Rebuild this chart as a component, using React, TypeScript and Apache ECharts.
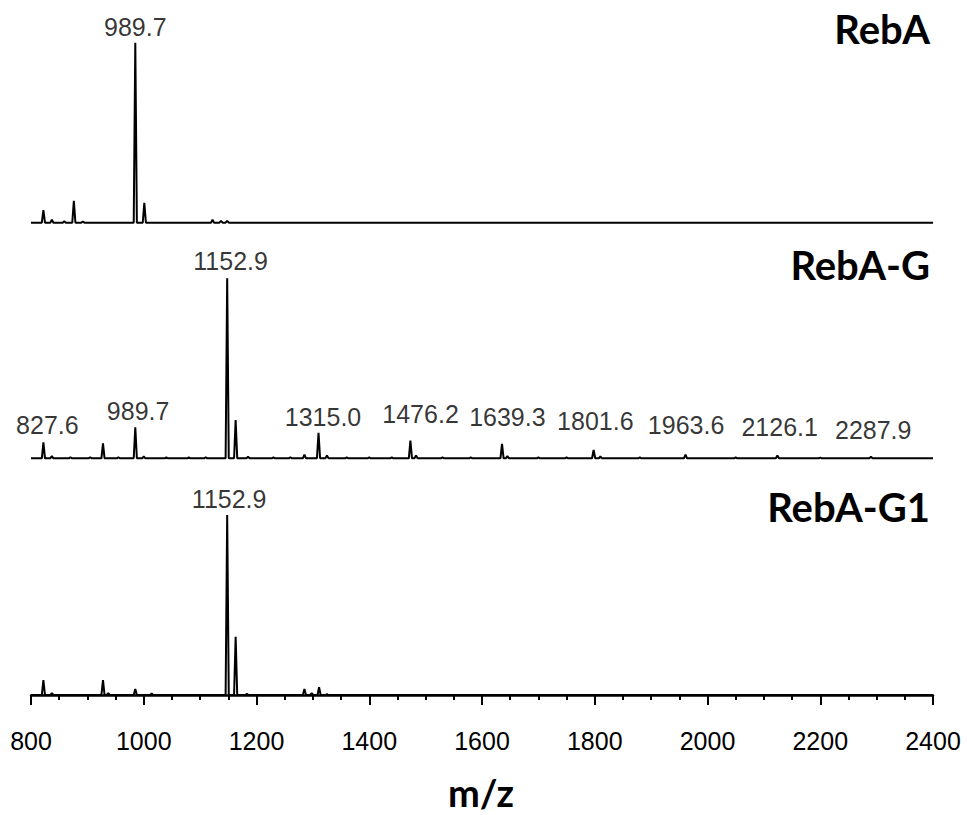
import React, { useEffect, useRef } from "react";
import * as echarts from "echarts";

// ---- axis ----
const MZ_MIN = 800;
const MZ_MAX = 2400;
const MZ_STEP = 200;
const xAxisTitle = "m/z";

// ---- panels ----
const panelNames = ["RebA", "RebA-G", "RebA-G1"];

// RebA spectrum (relative intensity, %)
const rebaPeakMz = [822, 837, 859, 876, 892, 985, 1001, 1122, 1137, 1148];
const rebaPeakInt = [7, 1.7, 0.8, 12.2, 0.6, 100, 11, 1.7, 1, 1];
const rebaLabelText = ["989.7"];
const rebaLabelMz = [985];
const rebaLabelLevel = [100.9];

// RebA-G spectrum
const rebagPeakMz = [
  822, 837, 870, 905, 927.7, 955, 985, 1000, 1040, 1080, 1110, 1148, 1163, 1185, 1230, 1260,
  1285, 1310, 1325, 1360, 1400, 1440, 1473, 1483, 1530, 1580, 1635.5, 1645, 1700, 1750, 1798,
  1810, 1880, 1961, 2050, 2124, 2200, 2290,
];
const rebagPeakInt = [
  8.9, 1.2, 0.6, 0.6, 8.3, 0.6, 17.2, 1, 0.5, 0.5, 0.6, 100, 21.3, 0.8, 0.5, 0.6,
  2, 14.2, 1.5, 0.5, 0.5, 0.5, 9.8, 1.5, 0.5, 0.5, 8, 1.2, 0.5, 0.5, 4.6,
  1, 0.5, 2, 0.5, 1.5, 0.4, 0.8,
];
const rebagLabelText = ["827.6", "989.7", "1152.9", "1315.0", "1476.2", "1639.3", "1801.6", "1963.6", "2126.1", "2287.9"];
const rebagLabelMz = [829, 990, 1154, 1318, 1491, 1645, 1801, 1962, 2128, 2294];
const rebagLabelLevel = [10.2, 18.5, 101.4, 14.8, 16.7, 14.8, 12.6, 10.2, 9.1, 7.9];

// RebA-G1 spectrum
const rebag1PeakMz = [822, 837, 927.7, 937, 985, 1014, 1148, 1163, 1183, 1285, 1298, 1311, 1325];
const rebag1PeakInt = [8.3, 1, 8.3, 1, 3.3, 0.8, 100, 32.4, 0.6, 3.3, 1, 4.3, 0.5];
const rebag1LabelText = ["1152.9"];
const rebag1LabelMz = [1151.5];
const rebag1LabelLevel = [100.9];

const PEAK_HALF_WIDTH = 2.8;

function buildTrace(mz: number[], inten: number[]) {
  const pts: number[][] = [[MZ_MIN, 0]];
  mz.forEach((m, i) => {
    pts.push([m - PEAK_HALF_WIDTH, 0], [m, inten[i]], [m + PEAK_HALF_WIDTH, 0]);
  });
  pts.push([MZ_MAX, 0]);
  return pts;
}

function buildLabels(texts: string[], mz: number[], level: number[]) {
  return texts.map((t, i) => ({ value: [mz[i], level[i]], name: t }));
}

const traces = [
  buildTrace(rebaPeakMz, rebaPeakInt),
  buildTrace(rebagPeakMz, rebagPeakInt),
  buildTrace(rebag1PeakMz, rebag1PeakInt),
];
const labels = [
  buildLabels(rebaLabelText, rebaLabelMz, rebaLabelLevel),
  buildLabels(rebagLabelText, rebagLabelMz, rebagLabelLevel),
  buildLabels(rebag1LabelText, rebag1LabelMz, rebag1LabelLevel),
];

const gridTops = [42.7, 278.3, 515];
const GRID_H = 180;
const NUM_FONT = "'Liberation Sans', Arial, sans-serif";
const TITLE_FONT = "Lato, 'Open Sans', sans-serif";
const nameCenters = [32, 268, 510];

export default function App() {
  const ref = useRef<HTMLDivElement>(null);
  useEffect(() => {
    document.body.style.margin = "0";
    if (!ref.current) return;
    const chart = echarts.init(ref.current, undefined, { renderer: "svg" });
    const option: any = {
      animation: false,
      backgroundColor: "#ffffff",
      grid: gridTops.map((t) => ({ left: 31, right: 34, top: t, height: GRID_H })),
      xAxis: gridTops.map((_, i) => {
        const base: any = {
          type: "value",
          gridIndex: i,
          min: MZ_MIN,
          max: MZ_MAX,
          interval: MZ_STEP,
          splitLine: { show: false },
        };
        if (i < 2) return { ...base, show: false };
        return {
          ...base,
          position: "bottom",
          offset: 18,
          axisLine: { show: true, lineStyle: { color: "#000", width: 2.5 } },
          axisTick: { show: true, length: 10, lineStyle: { color: "#000", width: 2 } },
          minorTick: { show: true, splitNumber: 4, length: 5, lineStyle: { color: "#000", width: 2 } },
          minorSplitLine: { show: false },
          axisLabel: {
            show: true,
            fontSize: 25,
            color: "#000",
            margin: 15,
            fontFamily: NUM_FONT,
            showMinLabel: true,
            showMaxLabel: true,
            formatter: (v: number) => String(v),
          },
        };
      }),
      yAxis: gridTops.map((_, i) => ({
        type: "value",
        gridIndex: i,
        min: 0,
        max: 100,
        show: false,
        splitLine: { show: false },
      })),
      series: [
        ...traces.map((d, i) => ({
          type: "line",
          xAxisIndex: i,
          yAxisIndex: i,
          data: d,
          showSymbol: false,
          symbol: "none",
          clip: false,
          lineStyle: { color: "#000", width: 2 },
          silent: true,
        })),
        ...labels.map((d, i) => ({
          type: "scatter",
          xAxisIndex: i,
          yAxisIndex: i,
          data: d,
          symbolSize: 0,
          clip: false,
          silent: true,
          label: {
            show: true,
            position: "top",
            distance: 2,
            formatter: (p: any) => p.name,
            fontSize: 25,
            color: "#000",
            fontFamily: NUM_FONT,
          },
        })),
      ],
      graphic: [
        ...panelNames.map((n, i) => ({
          type: "text",
          right: 37,
          top: nameCenters[i] - 23,
          style: {
            text: n,
            fontSize: 40,
            fontWeight: "bold",
            fontFamily: TITLE_FONT,
            fill: "#000",
          },
        })),
        {
          type: "text",
          x: 481,
          y: 792,
          style: {
            text: xAxisTitle,
            fontSize: 38,
            fontWeight: "bold",
            fontFamily: TITLE_FONT,
            fill: "#000",
            align: "center",
            verticalAlign: "middle",
          },
        },
      ],
    };
    chart.setOption(option);
    return () => chart.dispose();
  }, []);
  return <div ref={ref} style={{ width: 967, height: 815 }} />;
}
